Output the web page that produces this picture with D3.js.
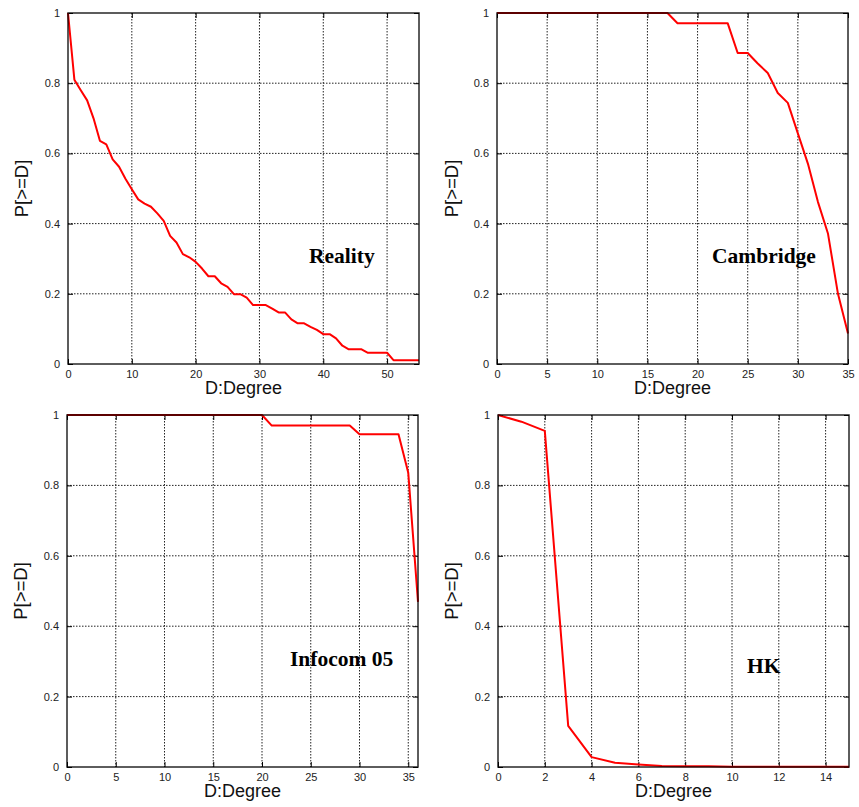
<!DOCTYPE html>
<html>
<head>
<meta charset="utf-8">
<script src="https://cdn.jsdelivr.net/npm/d3@7/dist/d3.min.js"></script>
<style>
  html, body { margin: 0; padding: 0; background: #fff; }
  svg { display: block; }
</style>
</head>
<body>
<svg id="chart" width="859" height="807"></svg>
<script>
// ---------------- DATA ----------------
const realityDegree = d3.range(0, 56);
const realityP = [1.000, 0.810, 0.780, 0.751, 0.700, 0.636, 0.626, 0.583, 0.562, 0.528,
                  0.498, 0.469, 0.457, 0.448, 0.429, 0.408, 0.365, 0.346, 0.313, 0.304,
                  0.291, 0.272, 0.250, 0.250, 0.230, 0.220, 0.199, 0.199, 0.189, 0.168,
                  0.168, 0.168, 0.158, 0.147, 0.147, 0.127, 0.116, 0.116, 0.106, 0.097,
                  0.085, 0.085, 0.073, 0.052, 0.042, 0.042, 0.042, 0.032, 0.032, 0.032,
                  0.032, 0.011, 0.011, 0.011, 0.011, 0.011];

const cambridgeDegree = d3.range(0, 36);
const cambridgeP = [1, 1, 1, 1, 1, 1, 1, 1, 1, 1,
                    1, 1, 1, 1, 1, 1, 1, 1, 0.971, 0.971,
                    0.971, 0.971, 0.971, 0.971, 0.886, 0.886, 0.856, 0.829, 0.772, 0.744,
                    0.657, 0.571, 0.462, 0.372, 0.200, 0.087];

const infocomDegree = d3.range(0, 37);
const infocomP = [1, 1, 1, 1, 1, 1, 1, 1, 1, 1,
                  1, 1, 1, 1, 1, 1, 1, 1, 1, 1,
                  1, 0.970, 0.970, 0.970, 0.970, 0.970, 0.970, 0.970, 0.970, 0.970,
                  0.945, 0.945, 0.945, 0.945, 0.945, 0.836, 0.469];

const hkDegree = d3.range(0, 16);
const hkP = [1.000, 0.981, 0.955, 0.117, 0.028, 0.012, 0.007, 0.003, 0.002, 0.002,
             0.001, 0.001, 0.001, 0.001, 0.001, 0.001];

const realityXTicks = [0, 10, 20, 30, 40, 50];
const cambridgeXTicks = [0, 5, 10, 15, 20, 25, 30, 35];
const infocomXTicks = [0, 5, 10, 15, 20, 25, 30, 35];
const hkXTicks = [0, 2, 4, 6, 8, 10, 12, 14];
const yTicks = [0, 0.2, 0.4, 0.6, 0.8, 1];

const panelNames = ["Reality", "Cambridge", "Infocom 05", "HK"];
const xLabel = "D:Degree";
const yLabel = "P[>=D]";

// ---------------- LAYOUT ----------------
const panels = [
  { name: panelNames[0], xs: realityDegree, ys: realityP, xMax: 55, xTicks: realityXTicks,
    box: { l: 68, r: 419, t: 13, b: 364 }, ylabX: 21, xlabY: 394, note: { x: 309, y: 263 } },
  { name: panelNames[1], xs: cambridgeDegree, ys: cambridgeP, xMax: 35, xTicks: cambridgeXTicks,
    box: { l: 497, r: 848, t: 13, b: 364 }, ylabX: 451, xlabY: 394, note: { x: 712, y: 263 } },
  { name: panelNames[2], xs: infocomDegree, ys: infocomP, xMax: 36, xTicks: infocomXTicks,
    box: { l: 67, r: 418, t: 415, b: 767 }, ylabX: 20, xlabY: 797, note: { x: 290, y: 666 } },
  { name: panelNames[3], xs: hkDegree, ys: hkP, xMax: 15, xTicks: hkXTicks,
    box: { l: 498, r: 849, t: 415, b: 767 }, ylabX: 451, xlabY: 797, note: { x: 747, y: 673 } }
];

const svg = d3.select("#chart");
const sansFont = "'Liberation Sans', Arial, Helvetica, sans-serif";
const serifFont = "'Liberation Serif', 'Times New Roman', Times, serif";

panels.forEach(p => {
  const { l, r, t, b } = p.box;
  const x = d3.scaleLinear().domain([0, p.xMax]).range([l, r]);
  const y = d3.scaleLinear().domain([0, 1]).range([b, t]);
  const g = svg.append("g");

  // grid
  g.append("g").selectAll("line.gx")
    .data(p.xTicks.filter(v => v > 0 && v < p.xMax))
    .join("line")
    .attr("x1", d => x(d)).attr("x2", d => x(d))
    .attr("y1", t).attr("y2", b)
    .attr("stroke", "#222").attr("stroke-width", 1)
    .attr("stroke-dasharray", "1.5,1.5");
  g.append("g").selectAll("line.gy")
    .data(yTicks.filter(v => v > 0 && v < 1))
    .join("line")
    .attr("x1", l).attr("x2", r)
    .attr("y1", d => y(d)).attr("y2", d => y(d))
    .attr("stroke", "#222").attr("stroke-width", 1)
    .attr("stroke-dasharray", "1.5,1.5");

  // axes with d3 (labels only, ticks inward)
  const xAxis = d3.axisBottom(x).tickValues(p.xTicks).tickSize(-5).tickPadding(6)
    .tickFormat(d3.format("d"));
  const gx = g.append("g").attr("transform", `translate(0,${b})`).call(xAxis);
  const yAxis = d3.axisLeft(y).tickValues(yTicks).tickSize(-5).tickPadding(8)
    .tickFormat(d => d === 0 || d === 1 ? d3.format("d")(d) : d3.format(".1f")(d));
  const gy = g.append("g").attr("transform", `translate(${l},0)`).call(yAxis);
  [gx, gy].forEach(ax => {
    ax.select(".domain").remove();
    ax.selectAll(".tick line").attr("stroke", "#000").attr("stroke-width", 1);
    ax.selectAll(".tick text").attr("font-family", sansFont).attr("font-size", 11)
      .attr("fill", "#222");
  });
  // mirrored ticks on top and right
  const xTop = d3.axisTop(x).tickValues(p.xTicks).tickSize(-5).tickFormat("");
  g.append("g").attr("transform", `translate(0,${t})`).call(xTop)
    .call(a => a.select(".domain").remove())
    .selectAll(".tick line").attr("stroke", "#000");
  const yRight = d3.axisRight(y).tickValues(yTicks).tickSize(-5).tickFormat("");
  g.append("g").attr("transform", `translate(${r},0)`).call(yRight)
    .call(a => a.select(".domain").remove())
    .selectAll(".tick line").attr("stroke", "#000");

  // data line
  const pts = p.xs.map((d, i) => [d, p.ys[i]]);
  g.append("path")
    .datum(pts)
    .attr("fill", "none")
    .attr("stroke", "#ff0000")
    .attr("stroke-width", 2)
    .attr("stroke-linejoin", "round")
    .attr("d", d3.line().x(d => x(d[0])).y(d => y(d[1])));

  // frame
  g.append("rect")
    .attr("x", l).attr("y", t).attr("width", r - l).attr("height", b - t)
    .attr("fill", "none").attr("stroke", "#000").attr("stroke-width", 1.5)
    .attr("stroke-opacity", 0.85);

  // axis labels
  g.append("text")
    .attr("x", (l + r) / 2).attr("y", p.xlabY)
    .attr("text-anchor", "middle")
    .attr("font-family", sansFont).attr("font-size", 18)
    .attr("fill", "#111")
    .text(xLabel);
  g.append("text")
    .attr("transform", `translate(${p.ylabX},${(t + b) / 2}) rotate(-90)`)
    .attr("text-anchor", "middle").attr("dominant-baseline", "central")
    .attr("font-family", sansFont).attr("font-size", 18.5)
    .attr("fill", "#111")
    .text(yLabel);

  // annotation
  g.append("text")
    .attr("x", p.note.x).attr("y", p.note.y)
    .attr("font-family", serifFont).attr("font-weight", "bold")
    .attr("font-size", 21.5).attr("fill", "#000")
    .text(p.name);
});
</script>
</body>
</html>
